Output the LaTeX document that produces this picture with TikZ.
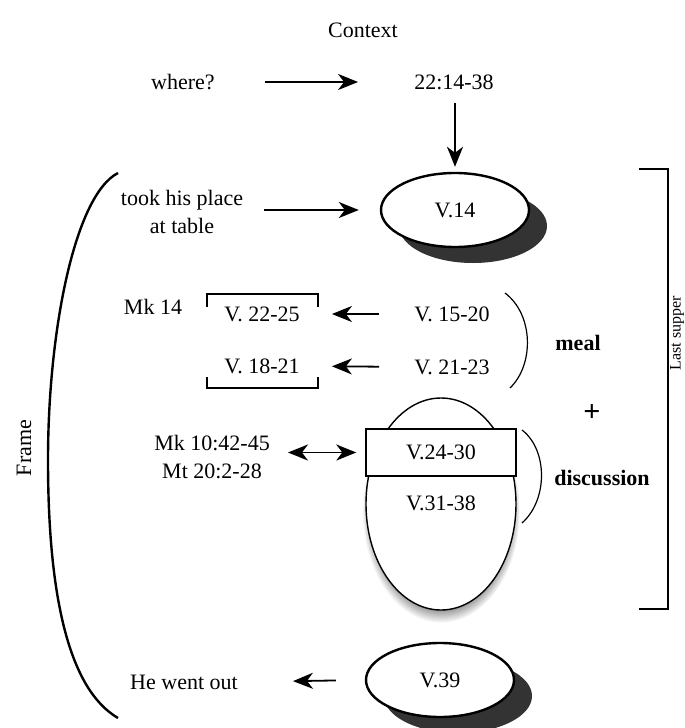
\documentclass[tikz,border=0pt]{standalone}
\usepackage{fontspec}
\setmainfont{Liberation Serif}
\usetikzlibrary{arrows.meta,shapes.geometric,shadows}

\begin{document}
\begin{tikzpicture}[x=1pt,y=-1pt,
  every node/.style={font=\fontsize{22}{28}\selectfont, inner sep=0pt},
  arr/.style={line width=1.8pt, -{Stealth[length=20pt,width=16pt,inset=6pt]}},
  darr/.style={line width=1.8pt, {Stealth[length=20pt,width=16pt,inset=6pt]}-{Stealth[length=20pt,width=16pt,inset=6pt]}},
  verse/.style={ellipse, draw, line width=2.4pt, fill=white, minimum width=148pt, minimum height=74pt,
    drop shadow={shadow xshift=18pt, shadow yshift=-16pt, fill=black!80, opacity=1}},
  hook/.style={line width=1.4pt},
  arcline/.style={line width=1.2pt}]

\useasboundingbox (0,0) rectangle (685,728);

% context
\node (context) at (363,30) {Context};
\node (where) at (183,82) {where?};
\node (range) at (454,82) {22:14-38};
\draw[arr, shorten <=50pt, shorten >=56pt] (where.east) -- (range.west);

% frame: v.14
\node[verse] (v14) at (455,210) {V.14};
\node[align=center] (took) at (182,212) {took his place\\at table};
\draw[arr, shorten <=13pt, shorten >=5pt] (v14.north |- range.south) -- (v14.north);
\draw[arr, shorten <=21pt, shorten >=21pt] (took.east |- v14) -- (v14.west);

% meal
\node (mk14) at (153,307) {Mk 14};
\node (v2225) at (262,314) {V. 22-25};
\node (v1821) at (262,366) {V. 18-21};
\node (v1520) at (452,314) {V. 15-20};
\node (v2123) at (452,367) {V. 21-23};
\draw[arr, shorten <=35pt, shorten >=32pt] (v1520.west) -- (v2225.east);
\draw[arr, shorten <=35pt, shorten >=32pt] (v2123.west) -- (v1821.east);
\draw[hook] (207,307) -- (207,294) -- (318,294) -- (318,307);
\draw[hook] (207,377) -- (207,388) -- (318,388) -- (318,377);
\draw[arcline] (505,293) .. controls (534,315) and (534,365) .. (510,388);
\node[font=\fontsize{22}{28}\selectfont\bfseries] (meal) at (578,343) {meal};
\node[font=\fontsize{30}{32}\selectfont\bfseries] (plus) at (592,413) {+};

% discussion
\node[ellipse, draw, line width=1.4pt, fill=white, minimum width=150pt, minimum height=212pt,
  circular drop shadow={shadow xshift=0pt, shadow yshift=-7pt, shadow scale=1.05}] (egg) at (441,504) {};
\node[draw, line width=1.4pt, fill=white, minimum width=150pt, minimum height=47pt] (v2430) at (441,452.5) {V.24-30};
\node (v3138) at (441,503) {V.31-38};
\node[align=center] (mkmt) at (212,457) {Mk 10:42-45\\Mt 20:2-28};
\draw[darr, shorten <=18pt, shorten >=9pt] (mkmt.east |- v2430) -- (v2430.west);
\draw[arcline] (522,430) .. controls (548,450) and (548,500) .. (522,523);
\node[font=\fontsize{22}{28}\selectfont\bfseries] (discussion) at (602,478) {discussion};

% last supper
\draw[line width=2pt] (639,169) -- (668,169) -- (668,609) -- (639,609);
\node[rotate=90, anchor=north, font=\fontsize{16}{18}\selectfont] (supper) at (670,333) {Last supper};

% frame: v.39
\node[verse] (v39) at (440,680) {V.39};
\node (out) at (184,682) {He went out};
\draw[arr, shorten <=29pt, shorten >=55pt] (v39.west) -- (out.east);

% frame bracket
\draw[line width=2.4pt] (118,173) .. controls (75,195) and (48,330) .. (48,460)
  .. controls (48,600) and (70,690) .. (118,718);
\node[rotate=90] (frame) at (24,448) {Frame};

\end{tikzpicture}
\end{document}
